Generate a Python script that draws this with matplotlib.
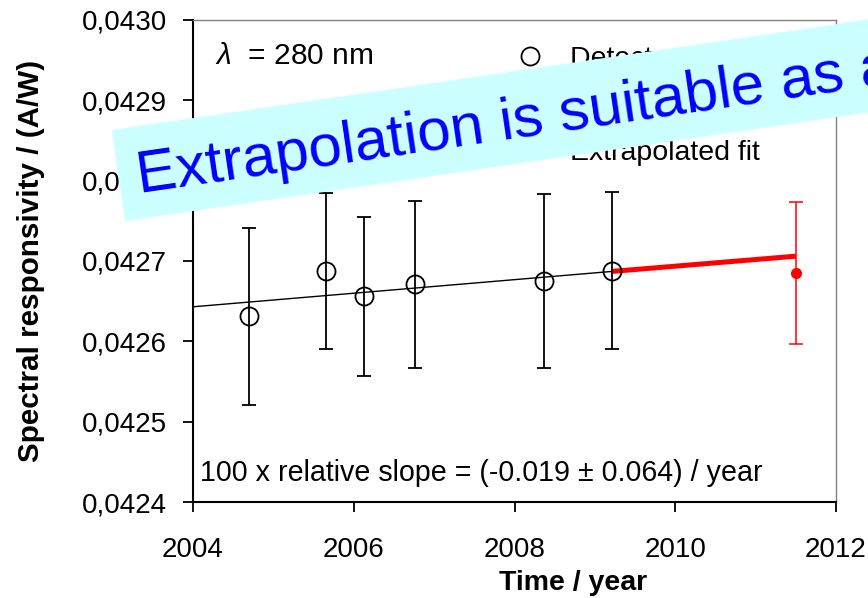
import numpy as np
import matplotlib.pyplot as plt
from matplotlib.patches import Rectangle
from matplotlib.ticker import FuncFormatter
from matplotlib.lines import Line2D

plt.rcParams['font.family'] = ['Liberation Sans', 'DejaVu Sans']
plt.rcParams['mathtext.fontset'] = 'custom'
plt.rcParams['mathtext.it'] = 'Liberation Sans:italic'
plt.rcParams['mathtext.rm'] = 'Liberation Sans'

# calibration data of the detector (A/W)
years = [2004.70, 2005.66, 2006.13, 2006.76, 2008.37, 2009.21]
resp = [0.042631, 0.042688, 0.042656, 0.042671, 0.042675, 0.042688]
resp_err = [0.000110, 0.000097, 0.000099, 0.000104, 0.000108, 0.000098]

# linear fit over the measured period and its extrapolation
fit_x = [2004.0, 2009.21]
fit_y = [0.042643, 0.042687]
ext_x = [2009.21, 2011.50]
ext_y = [0.042687, 0.042706]

# extrapolated value with uncertainty
pred_year = [2011.50]
pred_resp = [0.042685]
pred_err = [0.000088]

fig = plt.figure(figsize=(8.68, 5.98), dpi=100)
ax = fig.add_axes([0.2224, 0.1605, 0.7407, 0.8061])

ax.plot(fit_x, fit_y, color='black', lw=1.0, zorder=2)
ax.plot(ext_x, ext_y, color='red', lw=3.6, solid_capstyle='butt', zorder=3)
ax.errorbar(years, resp, yerr=resp_err, fmt='o', ms=13, mfc='none', mec='black',
            mew=1.3, ecolor='black', elinewidth=1.3, capsize=4.7, capthick=1.3, zorder=4)
ax.errorbar(pred_year, pred_resp, yerr=pred_err, fmt='o', ms=7, color='red',
            elinewidth=1.1, capsize=4.7, capthick=1.1, zorder=4)

ax.set_xlim(2004, 2012)
ax.set_ylim(0.0424, 0.0430)
ax.set_xticks([2004, 2006, 2008, 2010, 2012])
ax.set_yticks(np.arange(0.0424, 0.04301, 0.0001))
ax.yaxis.set_major_formatter(FuncFormatter(lambda v, p: f'{v:.4f}'.replace('.', ',')))
ax.tick_params(direction='out', length=7, width=1.3, labelsize=20)
ax.tick_params(axis='y', pad=12)
ax.tick_params(axis='x', pad=18)
for s in ['left', 'bottom']:
    ax.spines[s].set_linewidth(1.5)
for s in ['top', 'right']:
    ax.spines[s].set_color('#808080')
    ax.spines[s].set_linewidth(1.0)

ax.set_xlabel('Time / year', fontsize=20.5, fontweight='bold')
ax.xaxis.set_label_coords(0.591, -0.141)
ax.set_ylabel('Spectral responsivity / (A/W)', fontsize=21.3, fontweight='bold', labelpad=26)

ax.text(0.034, 0.925, r'$\lambda$  = 280 nm', transform=ax.transAxes, fontsize=21.5, va='center')
ax.text(0.011, 0.06, '100 x relative slope = (-0.019 ± 0.064) / year',
        transform=ax.transAxes, fontsize=20.6, va='center')

handles = [Line2D([], [], ls='none', marker='o', ms=13, mfc='none', mec='black', mew=1.3),
           Line2D([], [], color='black', lw=1.0),
           Line2D([], [], color='red', lw=3.6)]
ax.legend(handles, ['Detector T11', 'Linear fit to data', 'Extrapolated fit'],
          loc='upper left', bbox_to_anchor=(0.449, 1.0), frameon=False, fontsize=20.5,
          handlelength=1.6, handletextpad=0.6, labelspacing=0.75)

# banner across the top of the figure
fig.patches.append(Rectangle((1.25, 3.77), 9.0, 0.92, angle=8.3, transform=fig.dpi_scale_trans,
                             facecolor='#ccffff', edgecolor='none', zorder=10))
fig.text(1.39, 4.05, 'Extrapolation is suitable as a', transform=fig.dpi_scale_trans,
         rotation=8.3, rotation_mode='anchor', ha='left', va='baseline',
         color='#0000ff', fontsize=43.3, zorder=11)

fig.savefig('out.png', dpi=100)
